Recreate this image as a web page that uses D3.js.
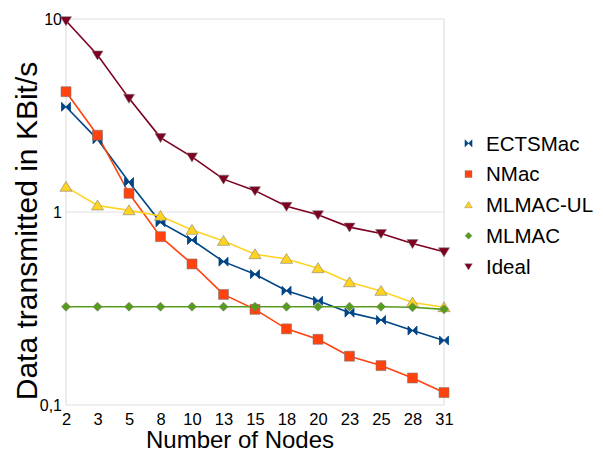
<!DOCTYPE html>
<html><head><meta charset="utf-8">
<script src="https://cdn.jsdelivr.net/npm/d3@7"></script>
<style>body{margin:0;background:#fff}svg{display:block}text{font-family:"Liberation Sans",Arial,sans-serif;fill:#000}</style>
</head><body>
<svg id="c" width="603" height="455"></svg>
<script>
const categories = ["2","3","5","8","10","13","15","18","20","23","25","28","31"];
const ectsmac = [3.51,2.38,1.43,0.884,0.716,0.553,0.476,0.391,0.347,0.301,0.276,0.243,0.216];
const nmac    = [4.20,2.50,1.25,0.745,0.538,0.374,0.313,0.248,0.219,0.179,0.160,0.138,0.116];
const mlmacUl = [1.35,1.08,1.02,0.954,0.807,0.708,0.604,0.571,0.511,0.432,0.390,0.340,0.321];
const mlmac   = [0.323,0.323,0.323,0.323,0.323,0.323,0.323,0.323,0.323,0.323,0.323,0.321,0.313];
const ideal   = [9.8,6.51,3.88,2.43,1.93,1.48,1.29,1.07,0.968,0.835,0.774,0.686,0.622];
const yTicks = [0.1,1,10];
const yTickLabels = ["0,1","1","10"];
const seriesNames = ["ECTSMac","NMac","MLMAC-UL","MLMAC","Ideal"];

const series = [
  {name:seriesNames[0], values:ectsmac, color:"#004586", shape:"bowtie"},
  {name:seriesNames[1], values:nmac, color:"#ff420e", shape:"square"},
  {name:seriesNames[2], values:mlmacUl, color:"#ffd320", shape:"triUp"},
  {name:seriesNames[3], values:mlmac, color:"#579d1c", shape:"diamond"},
  {name:seriesNames[4], values:ideal, color:"#7e0021", shape:"triDown"}
];

const svg = d3.select("#c");
const L=66, R=444, T=19, B=405;
const x = d3.scalePoint().domain(categories).range([L,R]).padding(0);
const y = d3.scaleLog().domain([0.1,10]).range([B,T]);

// grid + frame
const g = svg.append("g");
g.selectAll("line.grid").data(yTicks).enter().append("line")
  .attr("x1",L).attr("x2",R).attr("y1",d=>y(d)).attr("y2",d=>y(d))
  .attr("stroke","#e0e0e0").attr("stroke-width",1.2);
g.append("line").attr("x1",L).attr("x2",L).attr("y1",T).attr("y2",B).attr("stroke","#e0e0e0").attr("stroke-width",1.2);
g.append("line").attr("x1",R).attr("x2",R).attr("y1",T).attr("y2",B).attr("stroke","#e0e0e0").attr("stroke-width",1.2);

// axes
const yAxis = d3.axisLeft(y).tickValues(yTicks).tickFormat((d,i)=>yTickLabels[i]).tickSize(0).tickPadding(4);
const ya = svg.append("g").attr("transform",`translate(${L},0)`).call(yAxis);
ya.select(".domain").remove();
ya.selectAll("text").style("font-size","16px").attr("fill","#000");
const xAxis = d3.axisBottom(x).tickSize(0).tickPadding(8);
const xa = svg.append("g").attr("transform",`translate(0,${B})`).call(xAxis);
xa.select(".domain").remove();
xa.selectAll("text").style("font-size","16.5px").attr("fill","#000");

// titles
svg.append("text").attr("x",240).attr("y",448).attr("text-anchor","middle").style("font-size","24px").text("Number of Nodes");
svg.append("text").attr("transform","translate(37,231) rotate(-90)").attr("text-anchor","middle").style("font-size","30px").text("Data transmitted in KBit/s");

function markerPath(shape, s){
  const h=s/2;
  switch(shape){
    case "square": return `M${-h},${-h}H${h}V${h}H${-h}Z`;
    case "triUp": return `M0,${-h}L${h*1.1},${h*0.8}L${-h*1.1},${h*0.8}Z`;
    case "triDown": return `M0,${h}L${h*1.1},${-h*0.8}L${-h*1.1},${-h*0.8}Z`;
    case "diamond": return `M0,${-h}L${h},0L0,${h}L${-h},0Z`;
    case "bowtie": return `M${-h},${-h}L0,0L${-h},${h}ZM${h},${-h}L0,0L${h},${h}Z`;
  }
}
const sizes={square:10,triUp:11,triDown:10,diamond:9,bowtie:9};

const line = d3.line().x((d,i)=>x(categories[i])).y(d=>y(d));
series.forEach(s=>{
  svg.append("path").datum(s.values).attr("d",line).attr("fill","none")
    .attr("stroke",s.color).attr("stroke-width",1.6);
});
series.forEach(s=>{
  svg.selectAll(null).data(s.values).enter().append("path")
    .attr("transform",(d,i)=>`translate(${x(categories[i])},${y(d)})`)
    .attr("d",markerPath(s.shape,sizes[s.shape]))
    .attr("fill",s.color).attr("stroke",s.shape==="bowtie"?s.color:"rgba(120,120,120,0.55)").attr("stroke-width",s.shape==="bowtie"?0.8:1);
});

// legend
const lg = svg.append("g");
series.forEach((s,i)=>{
  const yy = 143.3 + i*30.8;
  lg.append("path").attr("transform",`translate(468.5,${yy})`).attr("d",markerPath(s.shape,7))
    .attr("fill",s.color).attr("stroke",s.shape==="bowtie"?s.color:"rgba(120,120,120,0.5)").attr("stroke-width",s.shape==="bowtie"?0.6:0.8);
  lg.append("text").attr("x",486).attr("y",yy).attr("dy","0.36em").style("font-size","20.5px").text(s.name);
});
</script>
</body></html>
